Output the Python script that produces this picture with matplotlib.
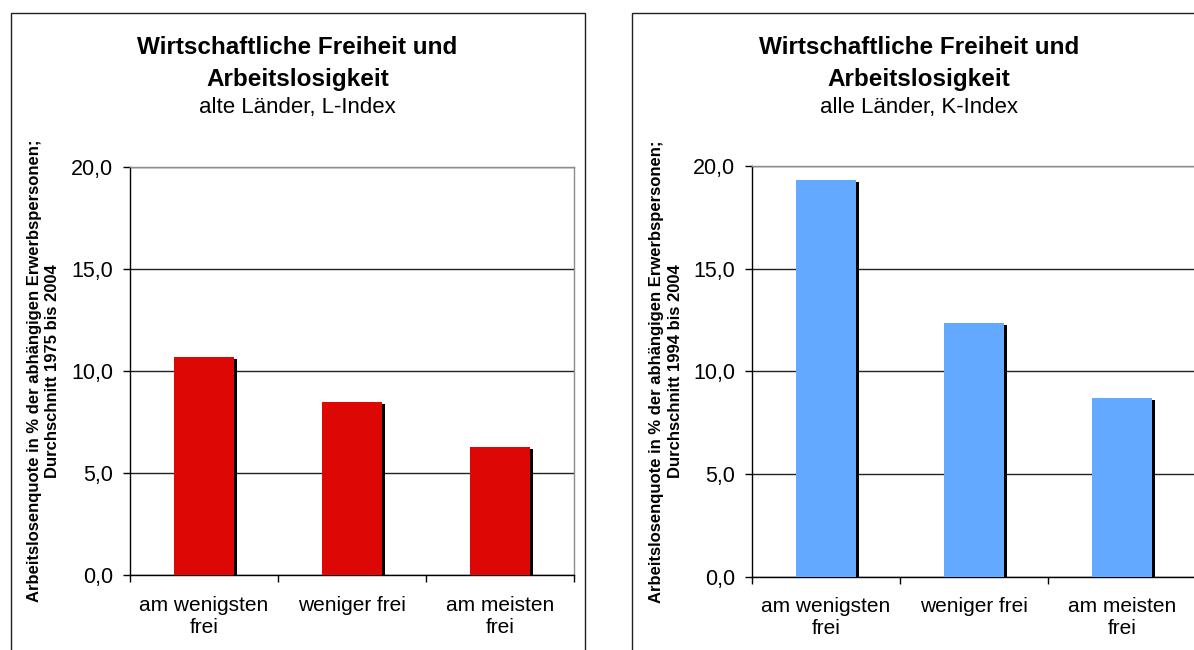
#!/usr/bin/env python3
"""
Two-panel bar chart: economic freedom vs. unemployment (Excel-style look).
"""

import matplotlib
matplotlib.use("Agg")
import matplotlib.pyplot as plt
import matplotlib.patheffects as pe
from matplotlib.patches import Rectangle
from matplotlib.ticker import FuncFormatter

plt.rcParams['font.family'] = ['Liberation Sans', 'DejaVu Sans']

# Data
categories = ["am wenigsten\nfrei", "weniger frei", "am meisten\nfrei"]
values_left = [10.7, 8.5, 6.3]     # alte Länder, L-Index
values_right = [19.3, 12.35, 8.7]  # alle Länder, K-Index

title = "Wirtschaftliche Freiheit und"
title2 = "Arbeitslosigkeit"
subtitle_left = "alte Länder, L-Index"
subtitle_right = "alle Länder, K-Index"
ylabel_left = "Arbeitslosenquote in % der abhängigen Erwerbspersonen;\nDurchschnitt 1975 bis 2004"
ylabel_right = "Arbeitslosenquote in % der abhängigen Erwerbspersonen;\nDurchschnitt 1994 bis 2004"
yticks = [0, 5, 10, 15, 20]

RED = '#dd0806'
BLUE = '#63a9ff'

W, H = 1194, 650
fig = plt.figure(figsize=(W / 100, H / 100), dpi=100)


def px(x, y):
    """Pixel coords (from top-left) to figure fraction."""
    return x / W, 1 - y / H


def draw_panel(box_left, ax_left, ax_top, ax_bottom, values, color, subtitle, ylabel):
    # chart box (extends past the image on the right / bottom)
    bx, by = px(box_left, 12.5)
    fig.patches.append(Rectangle((bx, by - 1.2), 574.5 / W, 1.2, transform=fig.transFigure,
                                 fill=False, edgecolor='#202020', linewidth=1.0))

    cx = (box_left + 287) / W
    fig.text(cx, 1 - 54 / H, title, ha='center', va='baseline', fontsize=17.5, fontweight='bold')
    fig.text(cx, 1 - 86 / H, title2, ha='center', va='baseline', fontsize=17.5, fontweight='bold')
    fig.text(cx, 1 - 113 / H, subtitle, ha='center', va='baseline', fontsize=16)

    l, t = px(ax_left, ax_top)
    _, b = px(ax_left, ax_bottom)
    ax = fig.add_axes([l, b, 444 / W, t - b])

    x = range(len(values))
    bars = ax.bar(x, values, width=0.405, color=color, zorder=3)
    for bar in bars:
        bar.set_path_effects([pe.SimplePatchShadow(offset=(2.0, -1.5), shadow_rgbFace='black', alpha=1.0),
                              pe.Normal()])

    ax.set_xlim(-0.5, 2.5)
    ax.set_ylim(0, 20)
    ax.set_yticks(yticks)
    ax.yaxis.set_major_formatter(FuncFormatter(lambda v, _: f"{v:.1f}".replace('.', ',')))
    ax.tick_params(axis='y', direction='out', length=5, width=1, pad=7, labelsize=15.5, color='black')

    # category boundaries get the tick marks, labels sit in between
    ax.set_xticks([-0.5, 0.5, 1.5, 2.5])
    ax.set_xticklabels([])
    ax.set_xticks(list(x), minor=True)
    ax.set_xticklabels(categories, minor=True, fontsize=15, linespacing=1.2)
    ax.tick_params(axis='x', which='major', direction='out', length=5, width=1, color='black')
    ax.tick_params(axis='x', which='minor', length=0, pad=15)

    ax.grid(axis='y', color='#222222', linewidth=1.0, zorder=0)
    ax.set_axisbelow(True)
    for side in ('left', 'bottom'):
        ax.spines[side].set_color('black')
        ax.spines[side].set_linewidth(1.0)
    for side in ('top', 'right'):
        ax.spines[side].set_color('#8c8c8c')
        ax.spines[side].set_linewidth(1.0)

    yc = (ax_top + ax_bottom) / 2
    fig.text((ax_left - 86) / W, 1 - yc / H, ylabel, rotation=90, ha='center', va='center',
             multialignment='center', fontsize=12, fontweight='bold', linespacing=1.25)
    return ax


draw_panel(10.5, 130, 167, 575.3, values_left, RED, subtitle_left, ylabel_left)
draw_panel(631.7, 752, 166, 576.6, values_right, BLUE, subtitle_right, ylabel_right)

fig.savefig("out.png", dpi=100)
